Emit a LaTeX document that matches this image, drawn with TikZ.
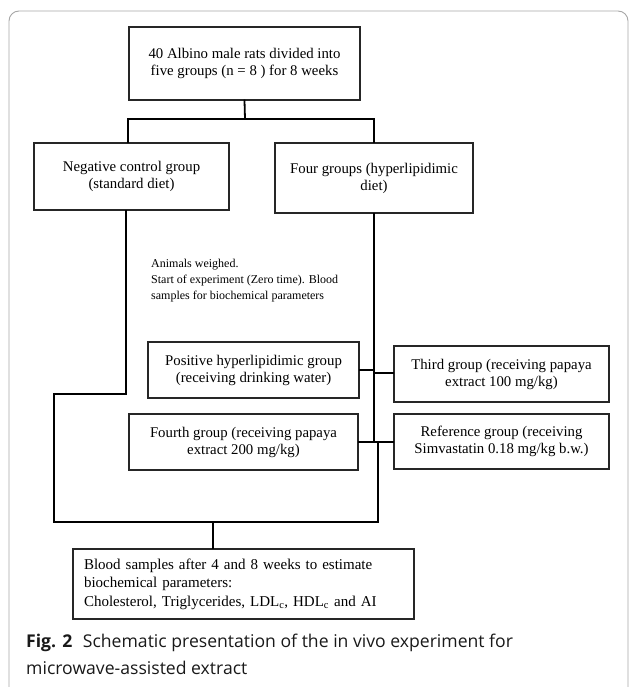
\documentclass[tikz,border=0pt]{standalone}
\usepackage{fontspec}
\setmainfont{Liberation Serif}
\newfontfamily\capfont{Open Sans}
\begin{document}
\begin{tikzpicture}[x=1pt,y=-1pt,
  box/.style={draw=black!85, line width=1.1pt, align=center, inner sep=0pt,
    font=\fontsize{14.8}{17}\selectfont},
  conn/.style={line width=1.8pt, black, line cap=rect},
  captext/.style={anchor=base west, inner sep=0pt, font=\capfont\fontsize{17.6}{27}\selectfont, text=black!90}]
\useasboundingbox (0,0) rectangle (630,687);
\draw[gray!70, line width=0.9pt, rounded corners=10pt] (9,720) -- (9,11) -- (628,11) -- (628,720);

\node[box, minimum width=231pt, minimum height=73pt] (top) at (244.5,63.5)
  {40 Albino male rats divided into\\five groups (n = 8 ) for 8 weeks};
\node[box, minimum width=195pt, minimum height=67pt] (neg) at (131.5,176.5)
  {Negative control group\\(standard diet)};
\node[box, minimum width=198pt, minimum height=70pt] (four) at (374,178)
  {Four groups (hyperlipidimic\\diet)};
\node[align=left, anchor=west, inner sep=0pt, font=\fontsize{12}{16}\selectfont] (note) at (151,281)
  {Animals weighed.\\Start of experiment (Zero time). Blood\\samples for biochemical parameters};
\node[box, minimum width=211pt, minimum height=56pt] (pos) at (253.5,370)
  {Positive hyperlipidimic group\\(receiving drinking water)};
\node[box, minimum width=215pt, minimum height=56pt] (third) at (501.5,374)
  {Third group (receiving papaya\\extract 100 mg/kg)};
\node[box, minimum width=229pt, minimum height=56pt] (fourth) at (243.5,442)
  {Fourth group (receiving papaya\\extract 200 mg/kg)};
\node[box, minimum width=215pt, minimum height=55pt] (ref) at (501.5,441.5)
  {Reference group (receiving\\Simvastatin 0.18 mg/kg b.w.)};
\node[box, minimum width=341pt, minimum height=70pt, align=left, text width=319pt,
  inner xsep=11pt, font=\fontsize{15}{18.5}\selectfont] (blood) at (243.5,584)
  {Blood samples after 4 and 8 weeks to estimate\\biochemical parameters:\\Cholesterol, Triglycerides, LDL\textsubscript{c}, HDL\textsubscript{c} and AI};

\coordinate (bar) at (245,119);
\coordinate (mid) at (374,442);
\coordinate (low) at (213,522);

\draw[conn] (top.south) -- (bar);
\draw[conn] (neg.north -| 128,0) |- (bar) -| (four.north);
\draw[conn] (neg.south -| 126,0) -- (126,394) -- (54,394) -- (54,522) -- (378,522) -- (378,443);
\draw[conn] (four.south) -- (mid);
\draw[conn] (pos.east) -- (374,370);
\draw[conn] (374,373) -- (third.west |- 0,373);
\draw[conn] (fourth.east) -- (mid) -- (ref.west |- mid);
\draw[conn] (low) -- (blood.north -| low);

\node[captext] (cap1) at (26,647)
  {\textbf{Fig. 2}\hspace{0.6em}Schematic presentation of the in vivo experiment for};
\node[captext] (cap2) at (26,674) {microwave-assisted extract};
\end{tikzpicture}
\end{document}
